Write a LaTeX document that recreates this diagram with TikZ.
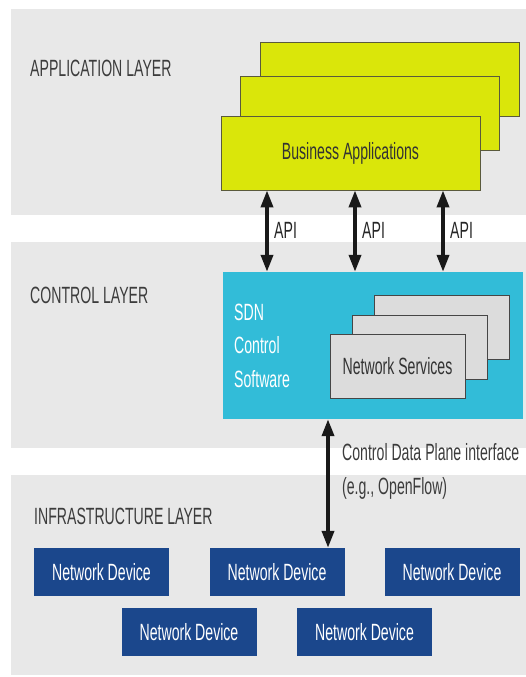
\documentclass[tikz,border=0pt]{standalone}
\usepackage{fontspec}
\setmainfont{Liberation Sans}[FakeStretch=0.6]
\usetikzlibrary{arrows.meta}
\definecolor{bandgray}{RGB}{232,232,232}
\definecolor{appyellow}{RGB}{218,230,10}
\definecolor{appedge}{RGB}{90,90,60}
\definecolor{ctrlcyan}{RGB}{50,188,216}
\definecolor{svcgray}{RGB}{220,220,220}
\definecolor{svcedge}{RGB}{70,70,70}
\definecolor{devblue}{RGB}{27,71,140}
\definecolor{labelgray}{RGB}{60,60,60}
\begin{document}
\begin{tikzpicture}[x=1pt,y=-1pt,
  every node/.style={inner sep=0pt, font=\fontsize{23.5}{33.5}\selectfont},
  layerlabel/.style={anchor=base west, text=labelgray},
  appbox/.style={fill=appyellow, draw=appedge, line width=0.8pt, minimum width=259pt, minimum height=74pt, text=black!80},
  svcbox/.style={fill=svcgray, draw=svcedge, line width=0.9pt, minimum width=135pt, minimum height=64pt, text=black!80},
  devbox/.style={fill=devblue, minimum width=135pt, minimum height=48pt, text=white},
  ctrlbox/.style={fill=ctrlcyan, minimum width=300pt, minimum height=147pt},
  biarrow/.style={line width=3.6pt, draw=black!90, {Triangle[length=17pt,width=12pt]}-{Triangle[length=17pt,width=12pt]}},
  apilabel/.style={anchor=base west, text=black!85}
]
\useasboundingbox (0,0) rectangle (526,677);
% layer bands
\fill[bandgray] (11,9) rectangle (526,215);
\fill[bandgray] (11,242) rectangle (526,448);
\fill[bandgray] (11,475) rectangle (526,675);
% labels
\node[layerlabel] (lapp) at (30,76) {APPLICATION LAYER};
\node[layerlabel] (lctrl) at (30,303) {CONTROL LAYER};
\node[layerlabel] (linfra) at (34,524) {INFRASTRUCTURE LAYER};
% application boxes
\node[appbox] (app3) at (389.5,79) {};
\node[appbox] (app2) at (370,113) {};
\node[appbox] (app1) at (350.5,153) {Business Applications};
% control box
\node[ctrlbox] (ctrl) at (373,345.5) {};
\node[anchor=base west, align=left, text=white] (sdn) at (234,387) {SDN\\Control\\Software};
\node[svcbox] (ns3) at (441.5,327.5) {};
\node[svcbox] (ns2) at (419.5,347) {};
\node[svcbox] (ns1) at (397.5,366) {Network Services};
% devices
\node[devbox] (dev1) at (101.5,572) {Network Device};
\node[devbox] (dev2) at (277,572) {Network Device};
\node[devbox] (dev3) at (452,572) {Network Device};
\node[devbox] (dev4) at (189,632) {Network Device};
\node[devbox] (dev5) at (364.5,632) {Network Device};
% arrows
\coordinate (a1) at (267,0);
\coordinate (a2) at (355,0);
\coordinate (a3) at (443,0);
\coordinate (a4) at (328,0);
\draw[biarrow] (a1 |- app1.south) -- (a1 |- ctrl.north);
\draw[biarrow] (a2 |- app1.south) -- (a2 |- ctrl.north);
\draw[biarrow] (a3 |- app1.south) -- (a3 |- ctrl.north);
\draw[biarrow] (a4 |- ctrl.south) -- (a4 |- dev2.north);
\node[apilabel] (api1) at (274,238) {API};
\node[apilabel] (api2) at (362,238) {API};
\node[apilabel] (api3) at (450,238) {API};
\node[anchor=base west, align=left, text=labelgray] (cdpi) at (342,494) {Control Data Plane interface\\(e.g., OpenFlow)};
\end{tikzpicture}
\end{document}
